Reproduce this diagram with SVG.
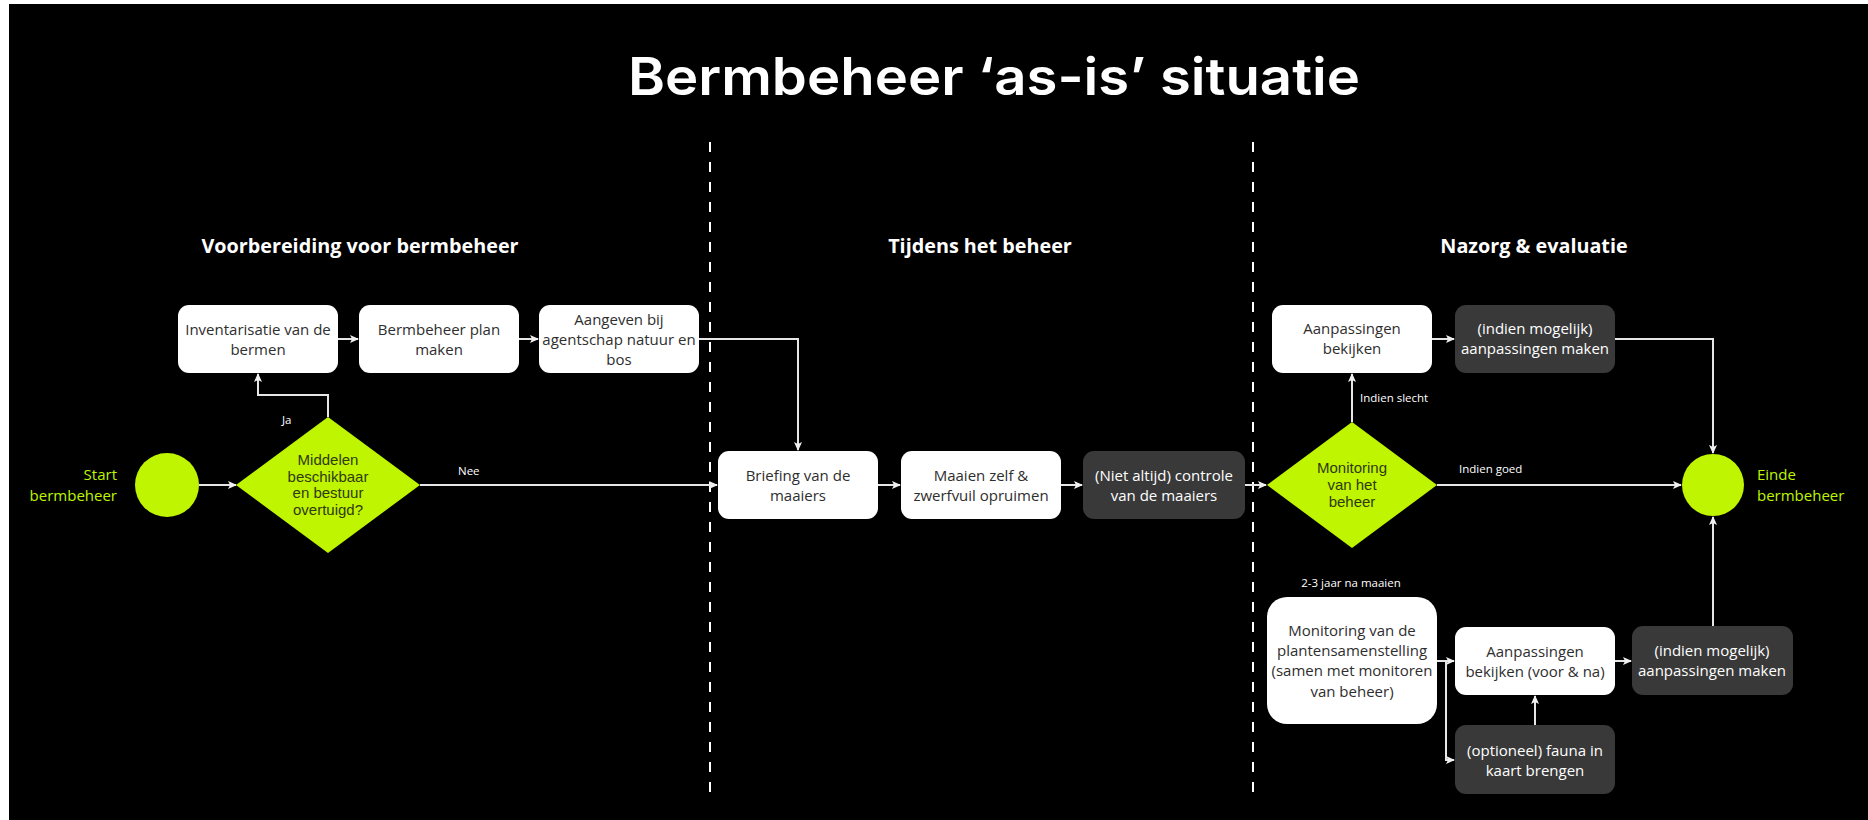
<svg xmlns="http://www.w3.org/2000/svg" width="1868" height="820" viewBox="0 0 1868 820">
  <defs>
    <style>
      .sec { font-family: "Open Sans", "Liberation Sans", sans-serif; font-weight: 700; font-size: 19.8px; fill: #ffffff; text-anchor: middle; }
      .box { fill: #ffffff; }
      .dark { fill: #393939; }
      .lime { fill: #bff500; }
      .t { font-family: "Open Sans", "Liberation Sans", sans-serif; font-size: 15px; text-anchor: middle; }
      .tb { fill: #2e2e2e; }
      .tw { fill: #ffffff; }
      .dt { font-family: "Liberation Sans", Arial, sans-serif; font-size: 15px; fill: #2f3a10; text-anchor: middle; }
      .lbl { font-family: "Open Sans", "Liberation Sans", sans-serif; font-size: 11.5px; fill: #ffffff; }
      .gl { font-family: "Open Sans", "Liberation Sans", sans-serif; font-size: 15px; fill: #bff500; }
      .edge { fill: none; stroke: #e6e6e6; stroke-width: 2; }
      .lane { stroke: #ffffff; stroke-width: 2; stroke-dasharray: 10 10; }
    </style>
    <marker id="arrow" markerWidth="10" markerHeight="10" refX="8" refY="5" orient="auto" markerUnits="userSpaceOnUse">
      <path d="M0,1 L9,5 L0,9 L2,5 z" fill="#f0f0f0"/>
    </marker>
  </defs>

  <!-- canvas -->
  <rect x="0" y="0" width="1868" height="820" fill="#ffffff"/>
  <rect x="9" y="4" width="1859" height="816" fill="#000000"/>

  <!-- title -->
  <text x="994" y="95" font-family="Inter, 'Liberation Sans', sans-serif" font-weight="600" font-size="52" fill="#ffffff" text-anchor="middle" textLength="732" lengthAdjust="spacingAndGlyphs">Bermbeheer ‘as-is’ situatie</text>

  <!-- phase separators -->
  <g id="lanes">
    <line class="lane" x1="710" y1="142" x2="710" y2="797"/>
    <line class="lane" x1="1253" y1="142" x2="1253" y2="797"/>
  </g>

  <!-- phase headings -->
  <text class="sec" x="360" y="253">Voorbereiding voor bermbeheer</text>
  <text class="sec" x="980" y="253">Tijdens het beheer</text>
  <text class="sec" x="1534" y="253">Nazorg &amp; evaluatie</text>

  <!-- connectors -->
  <g id="connectors">
    <path class="edge" d="M199,485 H236" marker-end="url(#arrow)"/>
    <path class="edge" d="M328,417 V395 H258 V374" marker-end="url(#arrow)"/>
    <path class="edge" d="M420,485 H717" marker-end="url(#arrow)"/>
    <path class="edge" d="M338,339 H358" marker-end="url(#arrow)"/>
    <path class="edge" d="M519,339 H538" marker-end="url(#arrow)"/>
    <path class="edge" d="M699,339 H798 V450" marker-end="url(#arrow)"/>
    <path class="edge" d="M878,485 H900" marker-end="url(#arrow)"/>
    <path class="edge" d="M1061,485 H1082" marker-end="url(#arrow)"/>
    <path class="edge" d="M1245,485 H1266" marker-end="url(#arrow)"/>
    <path class="edge" d="M1352,422 V374" marker-end="url(#arrow)"/>
    <path class="edge" d="M1432,339 H1454" marker-end="url(#arrow)"/>
    <path class="edge" d="M1615,339 H1713 V453" marker-end="url(#arrow)"/>
    <path class="edge" d="M1437,485 H1681" marker-end="url(#arrow)"/>
    <path class="edge" d="M1437,661 H1454" marker-end="url(#arrow)"/>
    <path class="edge" d="M1446,661 V760 H1454" marker-end="url(#arrow)"/>
    <path class="edge" d="M1535,725 V696" marker-end="url(#arrow)"/>
    <path class="edge" d="M1615,661 H1631" marker-end="url(#arrow)"/>
    <path class="edge" d="M1713,626 V517" marker-end="url(#arrow)"/>
  </g>

  <!-- connector labels -->
  <g id="labels">
    <text class="lbl" x="282" y="424">Ja</text>
    <text class="lbl" x="458" y="475">Nee</text>
    <text class="lbl" x="1360" y="402">Indien slecht</text>
    <text class="lbl" x="1459" y="473">Indien goed</text>
    <text class="lbl" x="1351" y="587" text-anchor="middle">2-3 jaar na maaien</text>
  </g>

  <!-- start -->
  <g id="start">
    <circle class="lime" cx="167" cy="485" r="32"/>
    <text class="gl" x="117" y="480" text-anchor="end">Start</text>
    <text class="gl" x="117" y="501" text-anchor="end">bermbeheer</text>
  </g>

  <!-- decision: resources -->
  <g id="decision-middelen">
    <polygon class="lime" points="328,417 420,485 328,553 236,485"/>
    <text class="dt" x="328" y="465">Middelen</text>
    <text class="dt" x="328" y="482">beschikbaar</text>
    <text class="dt" x="328" y="498">en bestuur</text>
    <text class="dt" x="328" y="515">overtuigd?</text>
  </g>

  <g id="inventarisatie">
    <rect class="box" x="178" y="305" width="160" height="68" rx="11"/>
    <text class="t tb" x="258" y="335">Inventarisatie van de</text>
    <text class="t tb" x="258" y="355">bermen</text>
  </g>

  <g id="plan">
    <rect class="box" x="359" y="305" width="160" height="68" rx="11"/>
    <text class="t tb" x="439" y="335">Bermbeheer plan</text>
    <text class="t tb" x="439" y="355">maken</text>
  </g>

  <g id="aangeven">
    <rect class="box" x="539" y="305" width="160" height="68" rx="11"/>
    <text class="t tb" x="619" y="325">Aangeven bij</text>
    <text class="t tb" x="619" y="345">agentschap natuur en</text>
    <text class="t tb" x="619" y="365">bos</text>
  </g>

  <g id="briefing">
    <rect class="box" x="718" y="451" width="160" height="68" rx="11"/>
    <text class="t tb" x="798" y="481">Briefing van de</text>
    <text class="t tb" x="798" y="501">maaiers</text>
  </g>

  <g id="maaien">
    <rect class="box" x="901" y="451" width="160" height="68" rx="11"/>
    <text class="t tb" x="981" y="481">Maaien zelf &amp;</text>
    <text class="t tb" x="981" y="501">zwerfvuil opruimen</text>
  </g>

  <g id="controle">
    <rect class="dark" x="1083" y="451" width="162" height="68" rx="11"/>
    <text class="t tw" x="1164" y="481">(Niet altijd) controle</text>
    <text class="t tw" x="1164" y="501">van de maaiers</text>
  </g>

  <!-- decision: monitoring -->
  <g id="decision-monitoring">
    <polygon class="lime" points="1352,422 1437,485 1352,548 1267,485"/>
    <text class="dt" x="1352" y="473">Monitoring</text>
    <text class="dt" x="1352" y="490">van het</text>
    <text class="dt" x="1352" y="507">beheer</text>
  </g>

  <g id="aanpassingen-bekijken">
    <rect class="box" x="1272" y="305" width="160" height="68" rx="11"/>
    <text class="t tb" x="1352" y="334">Aanpassingen</text>
    <text class="t tb" x="1352" y="354">bekijken</text>
  </g>

  <g id="aanpassingen-maken">
    <rect class="dark" x="1455" y="305" width="160" height="68" rx="11"/>
    <text class="t tw" x="1535" y="334">(indien mogelijk)</text>
    <text class="t tw" x="1535" y="354">aanpassingen maken</text>
  </g>

  <g id="einde">
    <circle class="lime" cx="1713" cy="485" r="31"/>
    <text class="gl" x="1757" y="480">Einde</text>
    <text class="gl" x="1757" y="501">bermbeheer</text>
  </g>

  <g id="monitoring-planten">
    <rect class="box" x="1267" y="597" width="170" height="127" rx="20"/>
    <text class="t tb" x="1352" y="636">Monitoring van de</text>
    <text class="t tb" x="1352" y="656">plantensamenstelling</text>
    <text class="t tb" x="1352" y="676">(samen met monitoren</text>
    <text class="t tb" x="1352" y="697">van beheer)</text>
  </g>

  <g id="aanpassingen-voor-na">
    <rect class="box" x="1455" y="627" width="160" height="68" rx="11"/>
    <text class="t tb" x="1535" y="657">Aanpassingen</text>
    <text class="t tb" x="1535" y="677">bekijken (voor &amp; na)</text>
  </g>

  <g id="aanpassingen-maken-2">
    <rect class="dark" x="1632" y="626" width="161" height="69" rx="11"/>
    <text class="t tw" x="1712" y="656">(indien mogelijk)</text>
    <text class="t tw" x="1712" y="676">aanpassingen maken</text>
  </g>

  <g id="fauna">
    <rect class="dark" x="1455" y="725" width="160" height="69" rx="11"/>
    <text class="t tw" x="1535" y="756">(optioneel) fauna in</text>
    <text class="t tw" x="1535" y="776">kaart brengen</text>
  </g>
</svg>
